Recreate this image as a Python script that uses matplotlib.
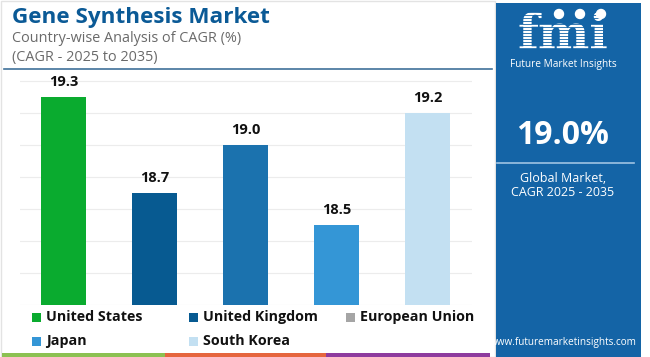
import matplotlib
matplotlib.use("Agg")
import matplotlib.pyplot as plt
from matplotlib.patches import Rectangle, Circle

# ==========================================================
# DATA
# ==========================================================

countries = [
    "United States",
    "United Kingdom",
    "European Union",
    "Japan",
    "South Korea"
]

cagr = [19.3, 18.7, 19.0, 18.5, 19.2]

bar_colors = ["#0aab2f", "#075a91", "#1b72ae", "#3496d6", "#c3e0f2"]

legend_colors = ["#0aab2f", "#075a91", "#a5a5a5", "#3496d6", "#c3e0f2"]

global_cagr = "19.0%"

# ==========================================================
# FIGURE
# ==========================================================

FONT = "Open Sans"
W, H = 650, 357

fig = plt.figure(figsize=(6.5, 3.57), dpi=100)
fig.patch.set_facecolor("white")

# pixel-coordinate decoration layer
deco = fig.add_axes([0, 0, 1, 1], zorder=0)
deco.set_xlim(0, W)
deco.set_ylim(H, 0)
deco.axis("off")

# thin frame round the left part
deco.add_patch(Rectangle((0.5, 0.5), 494, 356, fill=False,
                         edgecolor="#e3e3e3", linewidth=1))

# title
deco.text(12, 18, "Gene Synthesis Market", fontsize=16.2, fontweight="bold",
          color="#0b5a96", family=FONT, va="center", ha="left")
deco.text(12, 38, "Country-wise Analysis of CAGR (%)", fontsize=10.4,
          color="#6a6a6a", family=FONT, va="center", ha="left")
deco.text(12, 57, "(CAGR - 2025 to 2035)", fontsize=10.4,
          color="#6a6a6a", family=FONT, va="center", ha="left")
deco.plot([4, 492], [68.5, 68.5], color="#3f7199", linewidth=1.2)

# bottom stripe
for x0, x1, c in [(2, 165, "#8cc152"), (165, 326, "#e5663e"),
                  (326, 490, "#8e3b9e")]:
    deco.add_patch(Rectangle((x0, 353), x1 - x0, 4, color=c, linewidth=0))

# right panel
panel = "#1464a6"
deco.add_patch(Rectangle((496, 3), 145, 354, color=panel, linewidth=0))

deco.text(563, 49, "fmi", fontsize=35, fontweight="bold", color="white",
          family="DejaVu Serif", ha="center", va="baseline")
for y in range(12, 50, 3):
    deco.plot([505, 625], [y, y], color=panel, linewidth=0.6, zorder=5)
for cx in [559, 580, 601]:
    deco.add_patch(Circle((cx, 14), 4.5, color="white", zorder=6))
deco.text(563, 64, "Future Market Insights", fontsize=7.3, color="white",
          family=FONT, ha="center", va="center")

deco.text(563, 136, global_cagr, fontsize=23, fontweight="bold",
          color="white", family=FONT, ha="center", va="center")
deco.plot([497, 634], [163, 163], color="#9fc3e3", linewidth=1.2)
deco.text(563, 179, "Global Market,", fontsize=9, color="white",
          family=FONT, ha="center", va="center")
deco.text(563, 193, "CAGR 2025 - 2035", fontsize=9, color="white",
          family=FONT, ha="center", va="center")
deco.text(563, 342, "www.futuremarketinsights.com", fontsize=7.2,
          color="white", family=FONT, ha="center", va="center")

# ==========================================================
# BAR CHART
# ==========================================================

ax_left, ax_right = 20, 472
ax_top, ax_bottom = 70, 305

ax = fig.add_axes([
    ax_left / W,
    1 - ax_bottom / H,
    (ax_right - ax_left) / W,
    (ax_bottom - ax_top) / H
], zorder=2)
ax.patch.set_alpha(0)

x = range(len(countries))

bars = ax.bar(x, cagr, width=0.495, color=bar_colors, zorder=3)

for b, v in zip(bars, cagr):
    ax.annotate(f"{v:.1f}",
                (b.get_x() + b.get_width() / 2, v),
                xytext=(0, 6), textcoords="offset points",
                ha="center", va="bottom", fontsize=10.5,
                fontweight="bold", family=FONT, color="#111111")

ax.set_ylim(18.0, 19.47)
ax.set_xlim(-0.478, 4.489)
ax.set_yticks([18.0, 18.2, 18.4, 18.6, 18.8, 19.0, 19.2, 19.4])
ax.yaxis.grid(True, color="#ececec", linewidth=0.8, zorder=0)
ax.tick_params(left=False, bottom=False, labelleft=False, labelbottom=False)
for s in ax.spines.values():
    s.set_visible(False)

# ==========================================================
# LEGEND
# ==========================================================

col_x = [32, 189, 346]
row_y = [317, 341]

for i, (name, c) in enumerate(zip(countries, legend_colors)):
    cx = col_x[i % 3]
    cy = row_y[i // 3]
    deco.add_patch(Rectangle((cx, cy - 4.5), 9, 9, color=c, linewidth=0))
    deco.text(cx + 14, cy, name, fontsize=10.3, fontweight="bold",
              color="#111111", family=FONT, ha="left", va="center")

fig.savefig("out.png", dpi=100)
